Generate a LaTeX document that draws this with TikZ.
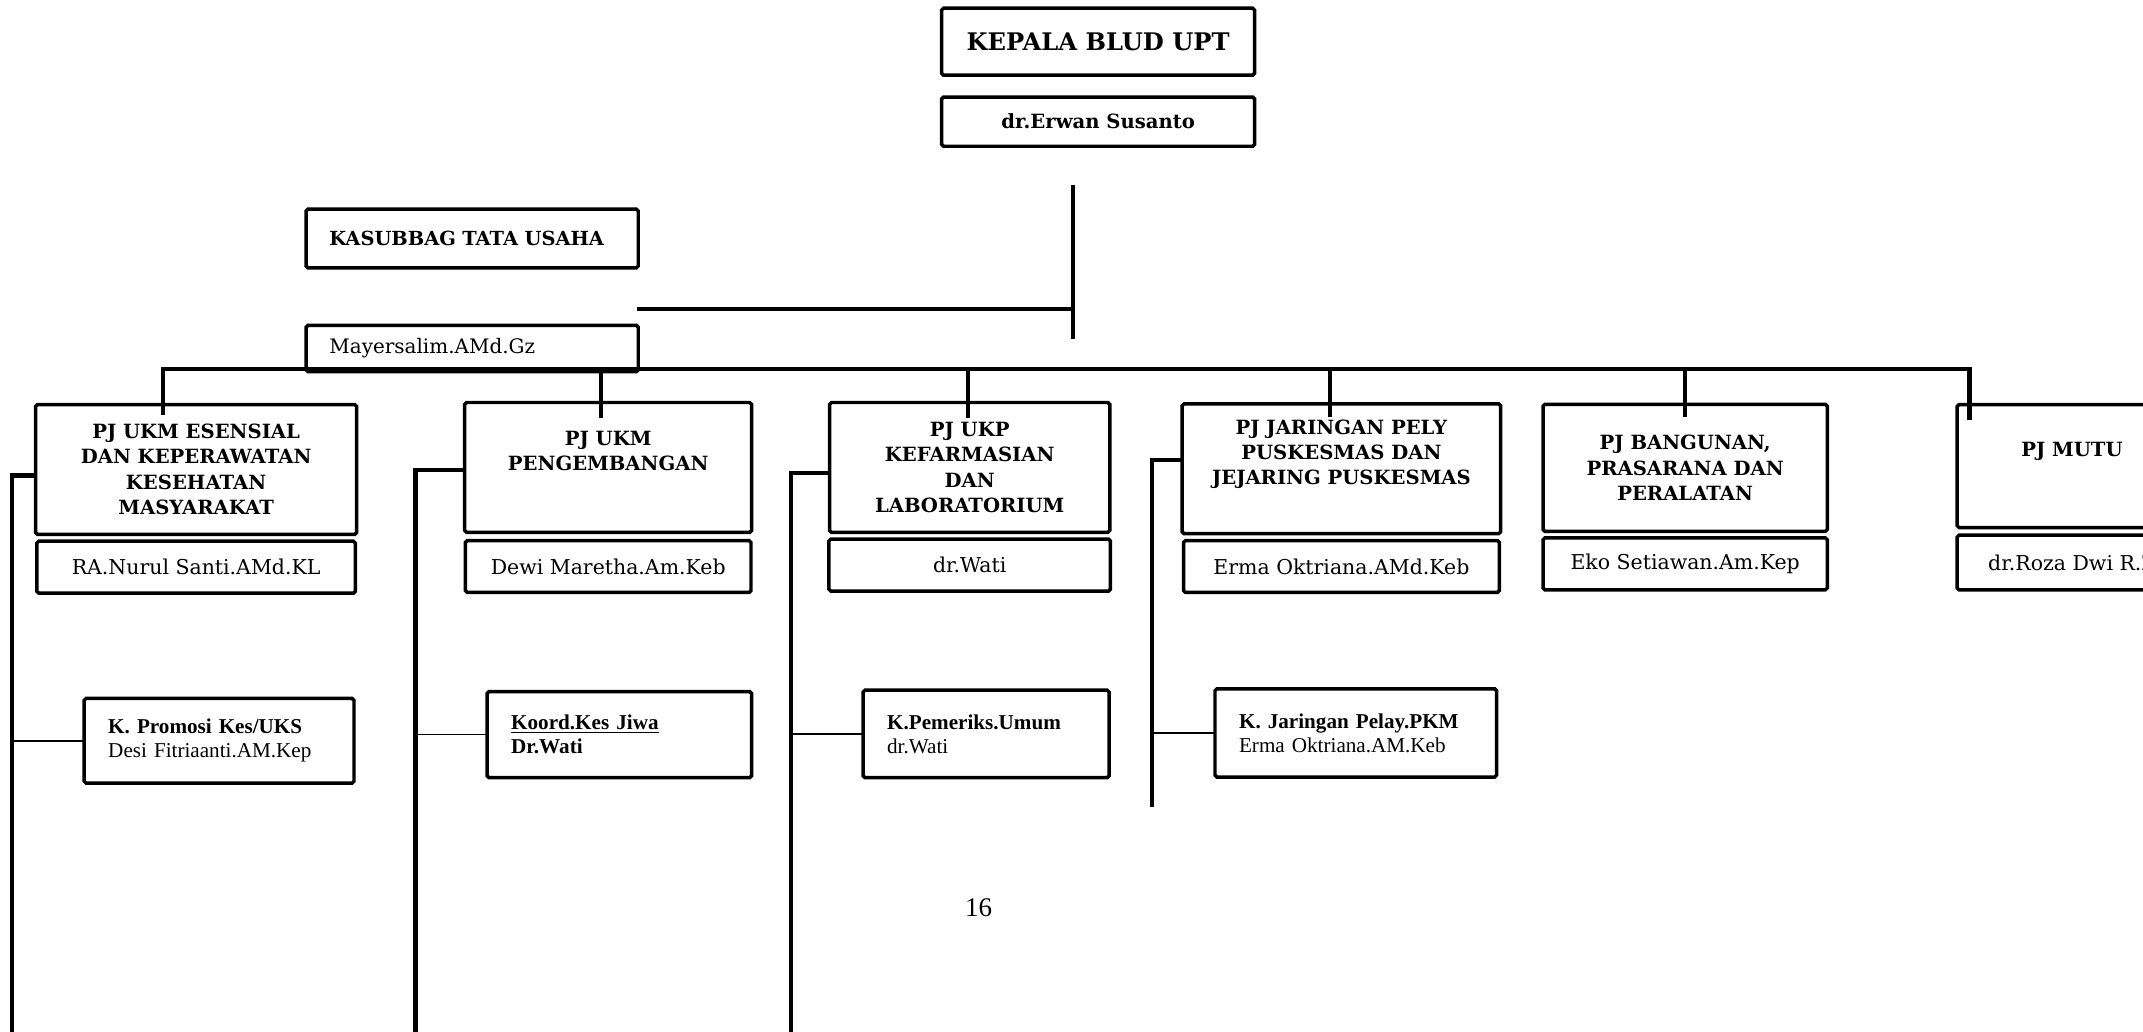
\documentclass[tikz,border=0pt]{standalone}
\usepackage{fontspec}
\setmainfont{DejaVu Serif}
\newfontfamily\timesfont{Liberation Serif}
\usetikzlibrary{positioning}
\tikzstyle{caixa} = [
rectangle, rounded corners=1pt, draw=black, line width=1.8pt,
inner sep=0pt, outer sep=0pt, align=center, text centered
]
\tikzstyle{pj} = [
caixa, minimum height=2.375cm, font=\bfseries\fontsize{10.2}{13.2}\selectfont
]
\tikzstyle{nama} = [
caixa, minimum height=0.95cm, font=\fontsize{10.65}{12}\selectfont
]
\tikzstyle{tu} = [
caixa, align=left, inner xsep=0.425cm, text width=5.225cm
]
\tikzstyle{sub} = [
caixa, align=left, inner xsep=0.44cm, font=\timesfont\fontsize{11}{12.4}\selectfont
]
\tikzstyle{conector} = [line width=2.2pt]
\tikzstyle{fino} = [line width=0.9pt]

\begin{document}
\begin{tikzpicture}
			\useasboundingbox (0,0) rectangle (39.2,-18.875);

			% Kepala
			\node (Kepala) [caixa, minimum width=5.725cm, minimum height=1.225cm, font=\bfseries\fontsize{12.6}{14}\selectfont] at (20.0875,-0.7625) {KEPALA BLUD UPT};
			\node (Erwan) [caixa, below=0.4cm of Kepala, minimum width=5.725cm, minimum height=0.9cm, font=\bfseries\fontsize{10.2}{12}\selectfont] {dr.Erwan Susanto};

			% Tata usaha
			\node (Kasubbag) [tu, minimum height=1.075cm, font=\bfseries\fontsize{10.1}{12}\selectfont] at (8.6375,-4.3625) {KASUBBAG TATA USAHA};
			\node (Mayer) [tu, below=1.05cm of Kasubbag, minimum height=0.85cm, font=\fontsize{10.4}{12}\selectfont] {Mayersalim.AMd.Gz};

			% Penanggung jawab
			\node (PJ_1) [pj, minimum width=5.875cm] at (3.5875,-8.5875) {PJ UKM ESENSIAL\\DAN KEPERAWATAN\\KESEHATAN\\MASYARAKAT};
			\node (PJ_2) [pj, minimum width=5.25cm] at (11.125,-8.55) {PJ UKM\\PENGEMBANGAN\\[4pt]~};
			\node (PJ_3) [pj, minimum width=5.125cm] at (17.7375,-8.55) {PJ UKP\\KEFARMASIAN\\DAN\\LABORATORIUM};
			\node (PJ_4) [pj, minimum width=5.825cm] at (24.5375,-8.575) {PJ JARINGAN PELY\\PUSKESMAS DAN\\JEJARING PUSKESMAS\\[4pt]~};
			\node (PJ_5) [pj, minimum width=5.2cm, minimum height=2.325cm] at (30.825,-8.5575) {PJ BANGUNAN,\\PRASARANA DAN\\PERALATAN};
			\node (PJ_6) [pj, minimum width=4.2cm, minimum height=2.25cm] at (37.9,-8.525) {PJ MUTU\\[4pt]~};

			% Nama
			\node (Nama_1) [nama, below=0.125cm of PJ_1, minimum width=5.825cm] {RA.Nurul Santi.AMd.KL};
			\node (Nama_2) [nama, below=0.15cm of PJ_2, minimum width=5.225cm] {Dewi Maretha.Am.Keb};
			\node (Nama_3) [nama, below=0.125cm of PJ_3, minimum width=5.15cm] {dr.Wati};
			\node (Nama_4) [nama, below=0.125cm of PJ_4, minimum width=5.775cm] {Erma Oktriana.AMd.Keb};
			\node (Nama_5) [nama, below=0.12cm of PJ_5, minimum width=5.2cm] {Eko Setiawan.Am.Kep};
			\node (Nama_6) [nama, below=0.14cm of PJ_6, minimum width=4.2cm, minimum height=1cm] {dr.Roza Dwi R.Z};

			% Koordinator
			\node (Sub_1) [sub, text width=4.055cm, minimum height=1.55cm] at (4.0075,-13.55) {\textbf{K. Promosi Kes/UKS}\\Desi Fitriaanti.AM.Kep};
			\node (Sub_2) [sub, text width=3.9575cm, minimum height=1.575cm] at (11.33,-13.4375) {\textbf{\underline{Koord.Kes Jiwa}}\\\textbf{Dr.Wati}};
			\node (Sub_3) [sub, text width=3.62cm, minimum height=1.6cm] at (18.0375,-13.425) {\textbf{K.Pemeriks.Umum}\\dr.Wati};
			\node (Sub_4) [sub, text width=4.27cm, minimum height=1.615cm] at (24.8,-13.4075) {\textbf{K. Jaringan Pelay.PKM}\\Erma Oktriana.AM.Keb};

			\node (Hal) [font=\timesfont\fontsize{14}{16}\selectfont] at (17.9,-16.6) {16};

			% Pontos livres
			\coordinate (Top_A) at (19.625,-3.375);
			\coordinate (Top_B) at (19.625,-6.2);
			\coordinate (TU) at (11.65,-5.65);
			\coordinate (Bus_R) at (36.025,-6.75);
			\coordinate (D_1) at (2.975,-7.6);
			\coordinate (D_2) at (10.99,-7.65);
			\coordinate (D_3) at (17.71,-7.65);
			\coordinate (D_4) at (24.325,-7.63);
			\coordinate (D_5) at (30.825,-7.63);
			\coordinate (D_6) at (36.025,-7.68);
			\coordinate (B_1) at (0.225,-19.3);
			\coordinate (B_2) at (7.6,-19.3);
			\coordinate (B_3) at (14.4625,-19.3);
			\coordinate (B_4) at (21.075,-14.7625);

			% Linhas
			\draw [conector] (Top_A) -- (Top_B);
			\draw [conector] (TU) -- (TU -| Top_A);
			\draw [conector] (D_1) -- (D_1 |- Bus_R) -- (Bus_R) -- (D_6);
			\draw [conector] (D_2 |- Bus_R) -- (D_2);
			\draw [conector] (D_3 |- Bus_R) -- (D_3);
			\draw [conector] (D_4 |- Bus_R) -- (D_4);
			\draw [conector] (D_5 |- Bus_R) -- (D_5);

			% Koordinator
			\draw [conector] ([yshift=-1.1mm]PJ_1.west) -| (B_1);
			\draw [conector] ([yshift=-0.5mm]PJ_2.west) -| (B_2);
			\draw [conector] ([yshift=-1mm]PJ_3.west) -| (B_3);
			\draw [conector] ([yshift=1.6mm]PJ_4.west) -| (B_4);
			\draw [fino] (Sub_1.west) -- (Sub_1.west -| B_1);
			\draw [fino] (Sub_2.west) -- (Sub_2.west -| B_2);
			\draw [fino] (Sub_3.west) -- (Sub_3.west -| B_3);
			\draw [fino] (Sub_4.west) -- (Sub_4.west -| B_4);

\end{tikzpicture}
\end{document}
